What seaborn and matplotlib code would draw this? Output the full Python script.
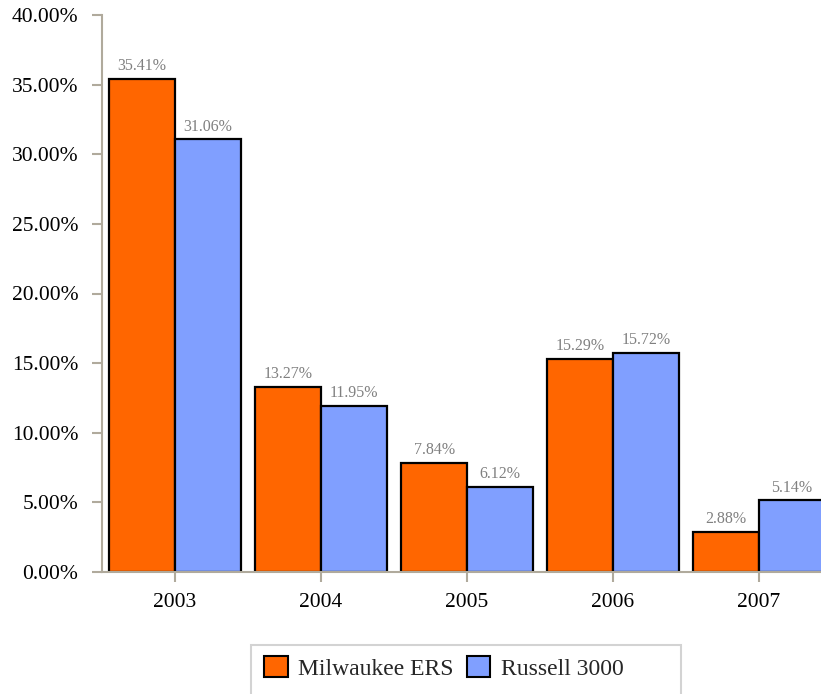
import numpy as np
import pandas as pd
import seaborn as sns
import matplotlib.pyplot as plt
from matplotlib.patches import Rectangle, Patch
from matplotlib.ticker import FuncFormatter

years = ["2003", "2004", "2005", "2006", "2007"]
series_names = ["Milwaukee ERS", "Russell 3000"]
milwaukee = [35.41, 13.27, 7.84, 15.29, 2.88]
russell = [31.06, 11.95, 6.12, 15.72, 5.14]
colors = ["#ff6600", "#809fff"]
y_ticks = [0, 5, 10, 15, 20, 25, 30, 35, 40]

df = pd.DataFrame({
    "year": years * 2,
    "series": [series_names[0]] * len(years) + [series_names[1]] * len(years),
    "value": milwaukee + russell,
})

sns.set_style("white", {"xtick.bottom": True, "ytick.left": True})
plt.rcParams["font.family"] = ["Liberation Serif", "DejaVu Serif"]
axis_color = "#b0aa9c"

W, H = 821, 694
fig = plt.figure(figsize=(W / 100, H / 100), dpi=100)
ax = fig.add_axes([102 / W, 122 / H, 719 / W, 557 / H])

sns.barplot(data=df, x="year", y="value", hue="series", order=years,
            hue_order=series_names, palette=colors, width=0.9,
            edgecolor="black", linewidth=1.6, saturation=1, legend=False, ax=ax)

for cont in ax.containers:
    ax.bar_label(cont, fmt="{:.2f}%", padding=3.5, fontsize=11.5, color="#808080")

ax.set_xlim(-0.5, -0.5 + 719 / 146)
ax.set_ylim(0, 40)
ax.set_yticks(y_ticks)
ax.yaxis.set_major_formatter(FuncFormatter(lambda v, p: f"{v:.2f}%"))
ax.set_xlabel("")
ax.set_ylabel("")
sns.despine(ax=ax, top=True, right=True)
for s in ["left", "bottom"]:
    ax.spines[s].set_color(axis_color)
    ax.spines[s].set_linewidth(1.5)
ax.tick_params(axis="both", colors=axis_color, width=1.5, length=7,
               labelcolor="black", labelsize=15.5, direction="out",
               bottom=True, left=True)
ax.tick_params(axis="y", pad=10)
ax.tick_params(axis="x", pad=8)

# legend box
fig.patches.append(Rectangle((251 / W, -0.05), 430 / W, 0.05 + 49 / H,
                             transform=fig.transFigure, facecolor="white",
                             edgecolor="#d3d3d3", linewidth=1.5))
handles = [Patch(facecolor=c, edgecolor="black", linewidth=1.5) for c in colors]
fig.legend(handles, series_names, loc="upper left",
           bbox_to_anchor=(264 / W, 1 - 656 / H), ncol=2, frameon=False,
           fontsize=17, handlelength=1.0, handleheight=1.0,
           handletextpad=0.45, columnspacing=0.55, borderpad=0,
           borderaxespad=0)

fig.savefig("out.png", dpi=100)
